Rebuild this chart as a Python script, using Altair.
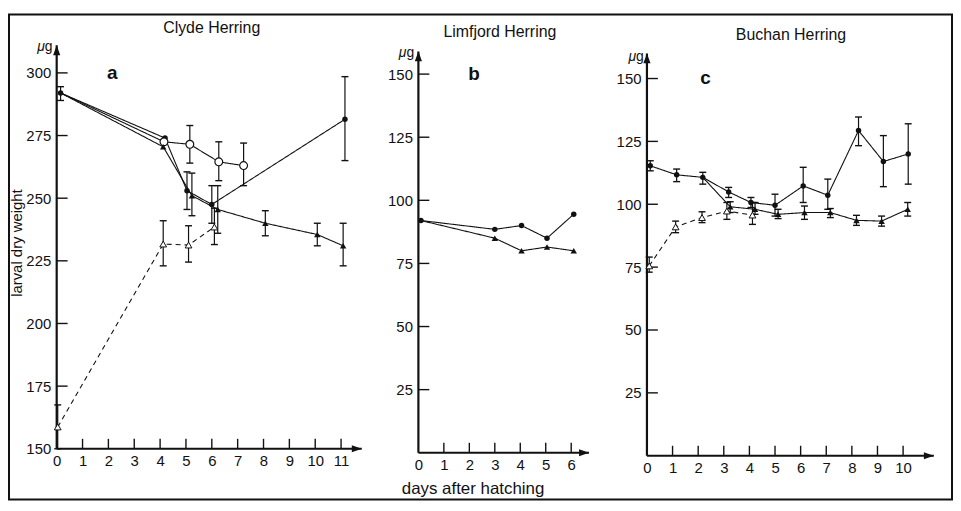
import altair as alt
import pandas as pd
import numpy as np

FONT = "Liberation Sans"
INK = "#111111"
NA = np.nan

# ---------------- Panel a : Clyde Herring ----------------
a_start = [0.15, 292.0, 289.0, 294.5]          # day, value, lo, hi (shared first point)
a_fc_day = [4.19, 5.04, 6.0, 11.15]
a_fc_val = [274.0, 253.0, 247.5, 281.5]
a_fc_lo = [NA, 245.5, 240.0, 265.0]
a_fc_hi = [NA, 260.5, 255.0, 298.5]

a_oc_day = [4.15, 5.15, 6.27, 7.23]
a_oc_val = [272.5, 271.5, 264.5, 263.0]
a_oc_lo = [NA, 264.0, 257.0, 255.0]
a_oc_hi = [NA, 279.0, 272.5, 272.0]

a_ft_day = [4.12, 5.23, 6.23, 8.07, 10.08, 11.08]
a_ft_val = [270.5, 251.0, 245.5, 240.0, 235.5, 231.0]
a_ft_lo = [NA, 243.0, 236.0, 235.0, 231.0, 223.0]
a_ft_hi = [NA, 260.0, 255.0, 245.0, 240.0, 240.0]

a_ot_day = [0.04, 4.12, 5.1, 6.1]
a_ot_val = [158.7, 231.7, 231.3, 238.5]
a_ot_lo = [150.0, 223.0, 224.5, 231.5]
a_ot_hi = [167.5, 241.0, 239.0, 246.0]

# ---------------- Panel b : Limfjord Herring ----------------
b_start = [0.1, 92.0]
b_fc_day = [3.0, 4.05, 5.05, 6.1]
b_fc_val = [88.5, 90.0, 85.0, 94.5]
b_ft_day = [3.0, 4.05, 5.05, 6.1]
b_ft_val = [85.0, 80.0, 81.5, 80.0]

# ---------------- Panel c : Buchan Herring ----------------
c_fc_day = [0.13, 1.16, 2.18, 3.19, 4.06, 5.0, 6.1, 7.06, 8.26, 9.23, 10.2]
c_fc_val = [115.3, 111.7, 110.7, 104.9, 100.7, 99.6, 107.3, 103.6, 129.3, 117.0, 120.0]
c_fc_lo = [113.3, 109.0, 108.0, 102.7, 98.7, 95.3, 100.7, 98.0, 123.3, 107.0, 108.0]
c_fc_hi = [117.3, 114.0, 112.7, 106.7, 102.7, 104.0, 114.7, 110.0, 134.7, 127.3, 132.0]

c_ft_day = [3.25, 4.22, 5.12, 6.15, 7.16, 8.18, 9.16, 10.18]
c_ft_val = [99.0, 98.0, 96.0, 96.7, 96.7, 93.6, 93.3, 98.0]
c_ft_lo = [96.7, 96.0, 94.3, 94.0, 94.7, 91.6, 91.3, 95.3]
c_ft_hi = [101.0, 100.7, 98.0, 99.3, 98.3, 95.6, 95.3, 100.7]

c_ot_day = [0.09, 1.12, 2.15, 3.12, 4.12]
c_ot_val = [75.5, 91.0, 94.7, 97.3, 95.7]
c_ot_lo = [73.0, 88.7, 92.7, 94.0, 92.0]
c_ot_hi = [79.0, 93.3, 97.0, 100.7, 100.7]

# axis ticks / labels
a_xlabels = list(range(0, 12))
a_ylabels = [150, 175, 200, 225, 250, 275, 300]
b_xlabels = list(range(0, 7))
bc_ylabels = [25, 50, 75, 100, 125, 150]
c_xlabels = list(range(0, 11))

ARROW_UP = "M0,0L0.36,1L-0.36,1Z"
ARROW_RIGHT = "M0,0L-1,0.36L-1,-0.36Z"

MARKERS = {
    "fc": dict(shape="circle", filled=True, fill=INK, size=30, strokeWidth=0),
    "oc": dict(shape="circle", filled=True, fill="white", stroke=INK, strokeWidth=1.2, size=62),
    "ft": dict(shape="triangle-up", filled=True, fill=INK, size=42, strokeWidth=0),
    "ot": dict(shape="triangle-up", filled=True, fill="white", stroke=INK, strokeWidth=1.0, size=46),
}


def sdf(days, vals, lo=None, hi=None):
    n = len(days)
    return pd.DataFrame({
        "x": days, "y": vals,
        "lo": lo if lo is not None else [NA] * n,
        "hi": hi if hi is not None else [NA] * n,
    })


def panel(width, height, xdom, ydom, xlabels, ylabels, xarrow, yarrow,
          series, texts, frame=None):
    xs = alt.Scale(domain=xdom, nice=False, zero=False)
    ys = alt.Scale(domain=ydom, nice=False, zero=False)
    xaxis = alt.Axis(values=xlabels, domain=False, ticks=False, grid=False,
                     labelFont=FONT, labelFontSize=15, labelColor=INK,
                     labelPadding=5, labelFlush=False, labelOverlap=False,
                     format="d", title=None)
    yaxis = alt.Axis(values=ylabels, domain=False, ticks=False, grid=False,
                     labelFont=FONT, labelFontSize=15, labelColor=INK,
                     labelPadding=6, labelFlush=False, labelOverlap=False,
                     format="d", title=None)

    def X(f):
        return alt.X(f, type="quantitative", scale=xs, axis=xaxis)

    def Y(f):
        return alt.Y(f, type="quantitative", scale=ys, axis=yaxis)

    layers = []
    if frame is not None:
        one = pd.DataFrame({"k": [0]})
        layers.append(alt.Chart(one).mark_rect(fillOpacity=0, stroke=INK, strokeWidth=2).encode(
            x=alt.value(frame[0]), x2=alt.value(frame[1]),
            y=alt.value(frame[2]), y2=alt.value(frame[3])))

    xt = pd.DataFrame({"x": [v for v in xlabels if v != 0]})
    layers.append(alt.Chart(xt).mark_rule(color=INK, strokeWidth=1.4).encode(
        x=X("x"), y=alt.value(height), y2=alt.value(height - 10)))
    yt = pd.DataFrame({"y": [v for v in ylabels if v != ydom[0]]})
    layers.append(alt.Chart(yt).mark_rule(color=INK, strokeWidth=1.4).encode(
        y=Y("y"), x=alt.value(0), x2=alt.value(11)))

    ax = pd.DataFrame({"x": [0.0], "y": [ydom[0]], "x2": [xarrow], "y2": [yarrow]})
    layers.append(alt.Chart(ax).mark_rule(color=INK, strokeWidth=2.2).encode(
        x=X("x"), y=Y("y"), y2=alt.Y2("y2")))
    layers.append(alt.Chart(ax).mark_rule(color=INK, strokeWidth=2.2).encode(
        x=X("x"), x2=alt.X2("x2"), y=Y("y")))
    up = pd.DataFrame({"x": [0.0], "y": [yarrow]})
    layers.append(alt.Chart(up).mark_point(shape=ARROW_UP, filled=True, fill=INK,
                                           strokeWidth=0, size=400, opacity=1).encode(
        x=X("x"), y=Y("y")))
    rt = pd.DataFrame({"x": [xarrow], "y": [ydom[0]]})
    layers.append(alt.Chart(rt).mark_point(shape=ARROW_RIGHT, filled=True, fill=INK,
                                           strokeWidth=0, size=400, opacity=1).encode(
        x=X("x"), y=Y("y")))

    for s in series:
        ldf = s["line"]
        dash = [5, 4] if s.get("dash") else [1, 0]
        layers.append(alt.Chart(ldf).mark_line(color=INK, strokeWidth=1.1,
                                               strokeDash=dash).encode(
            x=X("x"), y=Y("y"), order=alt.Order("x:Q")))
    for s in series:
        pdf = s["pts"]
        edf = pdf.dropna(subset=["lo", "hi"])
        if len(edf):
            layers.append(alt.Chart(edf).mark_rule(color=INK, strokeWidth=1.2).encode(
                x=X("x"), y=Y("lo"), y2=alt.Y2("hi")))
            for f in ("lo", "hi"):
                layers.append(alt.Chart(edf).mark_tick(color=INK, orient="horizontal",
                                                       size=7, thickness=1.4, opacity=1).encode(
                    x=X("x"), y=Y(f)))
    for s in series:
        pdf = s["pts"]
        layers.append(alt.Chart(pdf).mark_point(opacity=1, **MARKERS[s["m"]]).encode(
            x=X("x"), y=Y("y")))

    one = pd.DataFrame({"k": [0]})
    for t in texts:
        kw = dict(font=FONT, fontSize=t.get("size", 16), color=INK,
                  align=t.get("align", "center"), baseline=t.get("baseline", "middle"))
        if t.get("bold"):
            kw["fontWeight"] = "bold"
        if t.get("italic"):
            kw["fontStyle"] = "italic"
        if t.get("angle") is not None:
            kw["angle"] = t["angle"]
        layers.append(alt.Chart(one).mark_text(**kw).encode(
            x=alt.value(t["x"]), y=alt.value(t["y"]), text=alt.value(t["text"])))

    return alt.layer(*layers).properties(width=width, height=height)


def mu_g(dx, dy):
    return [
        dict(text="μ", x=dx - 9, y=dy, size=14, italic=True, align="right", baseline="alphabetic"),
        dict(text="g", x=dx - 9, y=dy, size=14, align="left", baseline="alphabetic"),
    ]


# ---- build panel a ----
a_first = sdf([a_start[0]], [a_start[1]], [a_start[2]], [a_start[3]])
a_fc = sdf(a_fc_day, a_fc_val, a_fc_lo, a_fc_hi)
a_oc = sdf(a_oc_day, a_oc_val, a_oc_lo, a_oc_hi)
a_ft = sdf(a_ft_day, a_ft_val, a_ft_lo, a_ft_hi)
a_ot = sdf(a_ot_day, a_ot_val, a_ot_lo, a_ot_hi)
a_series = [
    dict(m="fc", line=pd.concat([a_first, a_fc]), pts=pd.concat([a_first, a_fc])),
    dict(m="oc", line=pd.concat([a_first, a_oc]), pts=a_oc),
    dict(m="ft", line=pd.concat([a_first, a_ft]), pts=a_ft),
    dict(m="ot", line=a_ot, pts=a_ot, dash=True),
]
a_texts = [
    dict(text="Clyde Herring", x=156, y=-17, size=16),
    dict(text="a", x=56, y=28, size=19, bold=True),
    dict(text="larval dry weight", x=-40, y=199, size=15, angle=270),
] + mu_g(-3, 6)

pa = panel(307, 406, [0, 11.8], [150, 311], a_xlabels, a_ylabels, 11.8, 311,
           a_series, a_texts, frame=(-48, 901, -31, 457))

# ---- build panel b ----
b_first = sdf([b_start[0]], [b_start[1]])
b_fc = sdf(b_fc_day, b_fc_val)
b_ft = sdf(b_ft_day, b_ft_val)
b_series = [
    dict(m="fc", line=pd.concat([b_first, b_fc]), pts=pd.concat([b_first, b_fc])),
    dict(m="ft", line=pd.concat([b_first, b_ft]), pts=b_ft),
]
b_texts = [
    dict(text="Limfjord Herring", x=82, y=-13, size=16),
    dict(text="b", x=56, y=29, size=19, bold=True),
    dict(text="days after hatching", x=55, y=447, size=17),
] + mu_g(-3, 12)

pb = panel(173, 410, [0, 6.75], [0, 161.4], b_xlabels, bc_ylabels, 6.7, 159,
           b_series, b_texts)

# ---- build panel c ----
c_fc = sdf(c_fc_day, c_fc_val, c_fc_lo, c_fc_hi)
c_ft = sdf(c_ft_day, c_ft_val, c_ft_lo, c_ft_hi)
c_ot = sdf(c_ot_day, c_ot_val, c_ot_lo, c_ot_hi)
c_branch = c_fc.iloc[[2]][["x", "y"]].assign(lo=NA, hi=NA)
c_series = [
    dict(m="fc", line=c_fc, pts=c_fc),
    dict(m="ft", line=pd.concat([c_branch, c_ft]), pts=c_ft),
    dict(m="ot", line=c_ot, pts=c_ot, dash=True),
]
c_texts = [
    dict(text="Buchan Herring", x=145, y=-10, size=16),
    dict(text="c", x=59, y=33, size=19, bold=True),
] + mu_g(-2, 16)

pc = panel(290, 413, [0, 11.25], [0, 163.2], c_xlabels, bc_ylabels, 11.2, 160,
           c_series, c_texts)

chart = alt.hconcat(pa, pb, pc, spacing=57, bounds="flush").properties(
    padding={"left": 0, "top": 4, "right": 0, "bottom": 0},
    background="white",
).configure_view(strokeWidth=0)

chart.save("out.html", embed_options={"renderer": "svg", "actions": False})
